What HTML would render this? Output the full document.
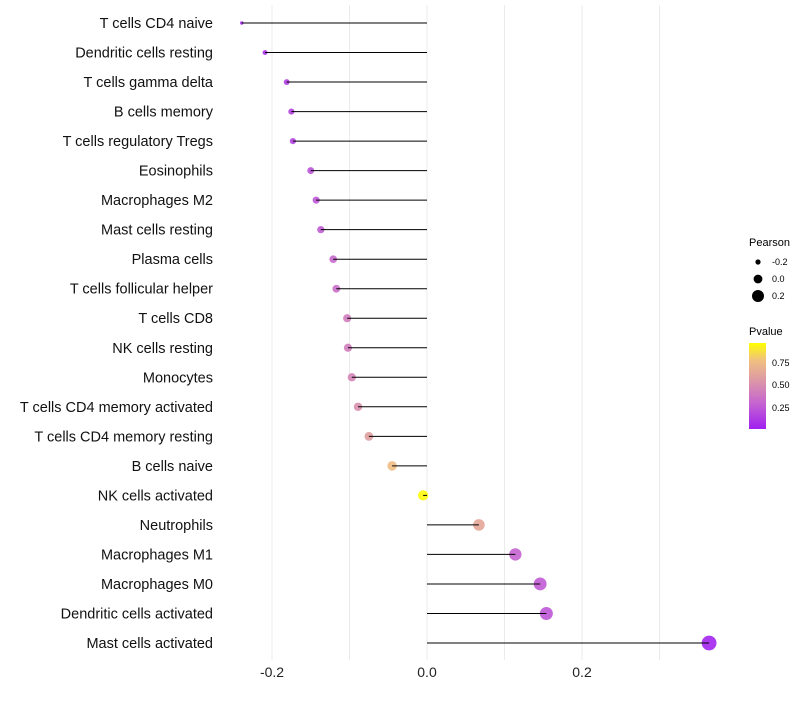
<!DOCTYPE html>
<html><head><meta charset="utf-8"><style>
body{margin:0;background:#fff;font-family:"Liberation Sans",sans-serif;}
</style></head><body>
<svg id="chart" width="800" height="700" xmlns="http://www.w3.org/2000/svg">
<defs><linearGradient id="pg" x1="0" y1="1" x2="0" y2="0">
<stop offset="0" stop-color="#a020f0"/><stop offset="0.3" stop-color="#c564d0"/><stop offset="0.55" stop-color="#db95a8"/><stop offset="0.8" stop-color="#f0c080"/><stop offset="1" stop-color="#ffff00"/></linearGradient></defs>
<g id="grid"></g><g id="points"></g><g id="marks"></g><g id="labels"></g>
<g font-size="10" fill="#000">
<text x="749" y="246" font-size="11">Pearson</text>
<circle cx="758" cy="262" r="2.6"/><text x="772" y="265" font-size="9">-0.2</text>
<circle cx="758" cy="279" r="4.4"/><text x="772" y="282" font-size="9">0.0</text>
<circle cx="758" cy="296" r="6"/><text x="772" y="299" font-size="9">0.2</text>
<text x="749" y="335" font-size="11">Pvalue</text>
<rect x="749" y="343" width="17" height="86" fill="url(#pg)"/>
<text x="772" y="366" font-size="9">0.75</text><text x="772" y="388" font-size="9">0.50</text><text x="772" y="411" font-size="9">0.25</text>
</g>
</svg>
<script>
const categories=["T cells CD4 naive","Dendritic cells resting","T cells gamma delta","B cells memory","T cells regulatory  Tregs","Eosinophils","Macrophages M2","Mast cells resting","Plasma cells","T cells follicular helper","T cells CD8","NK cells resting","Monocytes","T cells CD4 memory activated","T cells CD4 memory resting","B cells naive","NK cells activated","Neutrophils","Macrophages M1","Macrophages M0","Dendritic cells activated","Mast cells activated"];
const pearson=[-0.239,-0.209,-0.181,-0.175,-0.173,-0.150,-0.143,-0.137,-0.121,-0.117,-0.103,-0.102,-0.097,-0.089,-0.075,-0.045,-0.005,0.067,0.114,0.146,0.154,0.364];
const pvalue=[0.03,0.08,0.13,0.15,0.16,0.22,0.24,0.26,0.32,0.35,0.42,0.43,0.47,0.52,0.60,0.78,0.98,0.65,0.30,0.26,0.24,0.02];
const xTicks=[-0.2,0.0,0.2];
const xGrid=[-0.2,-0.1,0,0.1,0.2,0.3];
const NS="http://www.w3.org/2000/svg";
const x=v=>427+v*775;
const y=i=>23+i*(620/21);
const r=v=>Math.min(7.4,Math.sqrt(3+100*(v+0.239)));
function col(p){const s=[[0,[160,32,240]],[0.3,[197,100,208]],[0.55,[219,149,168]],[0.8,[240,192,128]],[1,[255,255,0]]];
for(let k=1;k<s.length;k++){if(p<=s[k][0]){const t=(p-s[k-1][0])/(s[k][0]-s[k-1][0]);return "rgb("+s[k-1][1].map((c,j)=>Math.round(c+(s[k][1][j]-c)*t)).join(",")+")";}}return "rgb(255,255,0)";}
function mk(t,a,p){const e=document.createElementNS(NS,t);for(const k in a)e.setAttribute(k,a[k]);p.appendChild(e);return e;}
const g=document.getElementById('grid'),m=document.getElementById('marks'),pt=document.getElementById('points'),l=document.getElementById('labels');
xGrid.forEach(v=>{const e=mk('line',{x1:x(v),x2:x(v),y1:5,y2:660,stroke:'#ebebeb','stroke-width':1},g);

});
xTicks.forEach(v=>{const e=mk('text',{x:x(v),y:677,'text-anchor':'middle','font-size':14,fill:'#222'},l);e.textContent=v.toFixed(1);

});
categories.forEach((c,i)=>{const e=mk('text',{x:213,y:y(i)+5,'text-anchor':'end','font-size':14.5,fill:'#111'},l);e.textContent=c;


const ci=mk('circle',{cx:x(pearson[i]),cy:y(i),r:r(pearson[i]),fill:col(pvalue[i]),'fill-opacity':0.9},pt);


const ln=mk('line',{x1:x(0),x2:x(pearson[i]),y1:y(i),y2:y(i),stroke:'#000','stroke-width':1},m);

});
</script>
</body></html>
